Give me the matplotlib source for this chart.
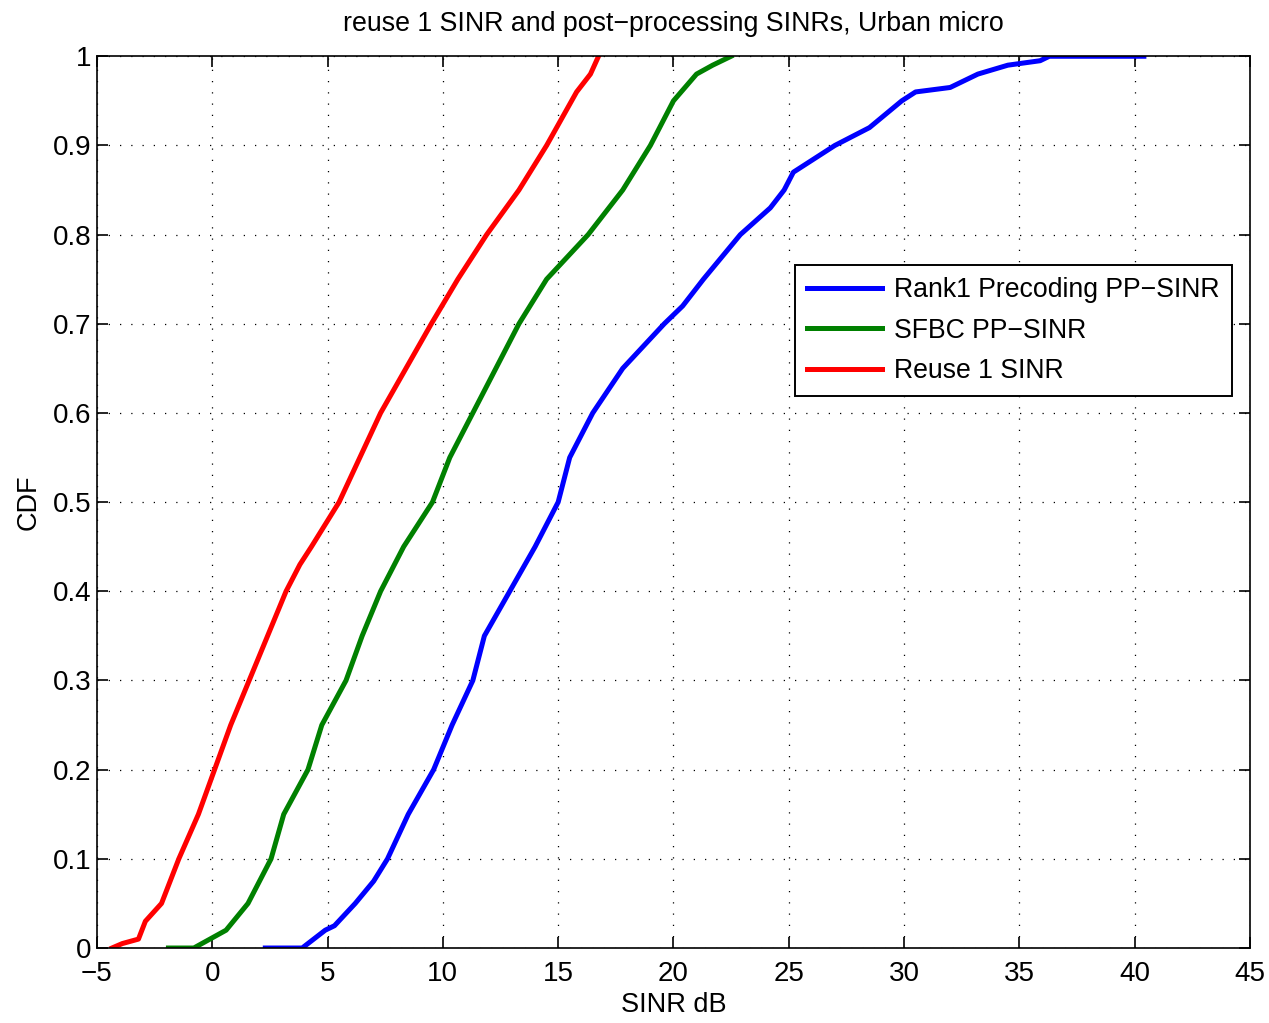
import matplotlib
matplotlib.use('Agg')
import matplotlib.pyplot as plt

rank1_x = [2.3, 3.9, 4.4, 4.9, 5.3, 6.2, 7.0, 7.6, 8.5, 9.6, 10.4, 11.3, 11.8, 12.9, 14.0, 15.0,
           15.5, 16.5, 17.8, 19.6, 20.4, 21.3, 22.9, 24.2, 24.8, 25.2, 27.0, 28.5, 29.9, 30.5,
           32.0, 33.2, 34.5, 35.9, 36.3, 40.4]
rank1_y = [0.0, 0.0, 0.01, 0.02, 0.025, 0.05, 0.075, 0.1, 0.15, 0.2, 0.25, 0.3, 0.35, 0.4, 0.45, 0.5,
           0.55, 0.6, 0.65, 0.7, 0.72, 0.75, 0.8, 0.83, 0.85, 0.87, 0.9, 0.92, 0.95, 0.96,
           0.965, 0.98, 0.99, 0.995, 1.0, 1.0]

sfbc_x = [-1.9, -0.8, -0.1, 0.6, 1.55, 1.95, 2.55, 3.1, 4.15, 4.75, 5.8, 6.5, 7.3, 8.3, 9.55,
          10.3, 11.3, 12.3, 13.3, 14.5, 16.3, 17.8, 19.0, 20.0, 21.0, 21.7, 22.5]
sfbc_y = [0.0, 0.0, 0.01, 0.02, 0.05, 0.07, 0.1, 0.15, 0.2, 0.25, 0.3, 0.35, 0.4, 0.45, 0.5,
          0.55, 0.6, 0.65, 0.7, 0.75, 0.8, 0.85, 0.9, 0.95, 0.98, 0.99, 1.0]

reuse_x = [-4.35, -3.9, -3.2, -2.9, -2.2, -1.45, -0.6, 0.1, 0.8, 1.6, 2.4, 3.2, 3.8, 4.3, 5.5,
           6.4, 7.3, 8.4, 9.5, 10.65, 11.9, 13.3, 14.5, 15.8, 16.4, 16.75]
reuse_y = [0.0, 0.005, 0.01, 0.03, 0.05, 0.1, 0.15, 0.2, 0.25, 0.3, 0.35, 0.4, 0.43, 0.45, 0.5,
           0.55, 0.6, 0.65, 0.7, 0.75, 0.8, 0.85, 0.9, 0.96, 0.98, 1.0]

labels = ['Rank1 Precoding PP\u2212SINR', 'SFBC PP\u2212SINR', 'Reuse 1 SINR']
colors = ['#0000ff', '#008000', '#ff0000']

plt.rcParams['font.family'] = ['Liberation Sans', 'DejaVu Sans']

fig = plt.figure(figsize=(12.69, 10.23), dpi=100)
ax = fig.add_axes([0.0764, 0.0733, 0.9086, 0.8717])

ax.plot(rank1_x, rank1_y, color=colors[0], lw=3.6, label=labels[0])
ax.plot(sfbc_x, sfbc_y, color=colors[1], lw=3.6, label=labels[1])
ax.plot(reuse_x, reuse_y, color=colors[2], lw=3.6, label=labels[2])

ax.set_xlim(-5, 45)
ax.set_ylim(0, 1)
ax.set_xticks(range(-5, 46, 5))
ax.set_yticks([i / 10 for i in range(11)])
ax.set_yticklabels(['0', '0.1', '0.2', '0.3', '0.4', '0.5', '0.6', '0.7', '0.8', '0.9', '1'])
ax.tick_params(direction='in', top=True, right=True, length=8, width=1.2, labelsize=20)
ax.tick_params(axis='x', pad=9)
ax.tick_params(axis='y', pad=4)
ax.grid(True, color='black', linestyle=(0, (1, 8)), linewidth=0.9)
for s in ax.spines.values():
    s.set_linewidth(1.2)

ax.set_xlabel('SINR dB', fontsize=19.5, labelpad=4)
ax.set_ylabel('CDF', fontsize=19.5, labelpad=8)
ax.set_title('reuse 1 SINR and post\u2212processing SINRs, Urban micro', fontsize=19.3, pad=18)

leg = ax.legend(loc='upper right', bbox_to_anchor=(0.984, 0.766), fontsize=19.2, fancybox=False,
                edgecolor='black', framealpha=1, handlelength=2.8, handletextpad=0.45,
                borderpad=0.45, borderaxespad=0, labelspacing=0.55)
leg.get_frame().set_linewidth(1.4)

fig.savefig('out.png', dpi=100)
